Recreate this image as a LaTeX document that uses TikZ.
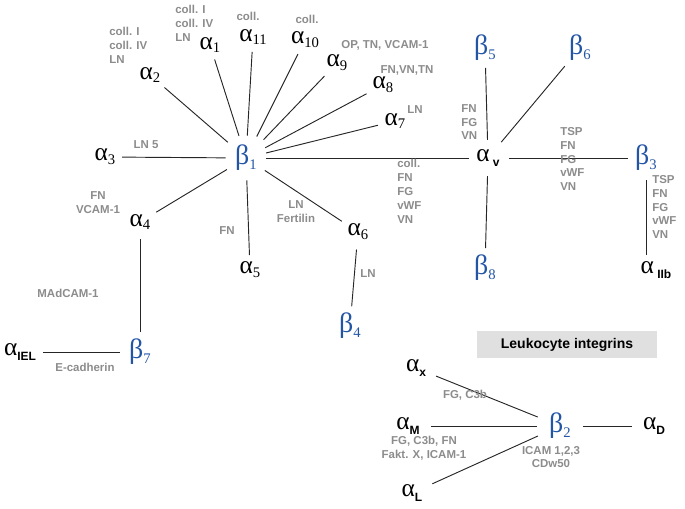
\documentclass[tikz,border=0pt]{standalone}
\usepackage{fontspec}
\setsansfont{Liberation Sans}
\newfontfamily\grf{Liberation Serif}
\newcommand{\gs}[2]{{\grf #1}\raisebox{-0.35ex}{\fontsize{11}{11}\selectfont\grf #2}}
\newcommand{\gl}[2]{{\grf #1}\raisebox{-0.45ex}{\sffamily\bfseries\fontsize{9}{9}\selectfont #2}}
\begin{document}
\begin{tikzpicture}[x=0.75pt,y=-0.75pt,
  a/.style={inner sep=0pt,font=\fontsize{19}{19}\selectfont},
  b/.style={inner sep=0pt,text=bblue,font=\fontsize{21}{21}\selectfont},
  l/.style={inner sep=0pt,text=lgray,font=\sffamily\bfseries\fontsize{8.6}{10.4}\selectfont},
  ln/.style={draw=black!85,line width=0.7pt,shorten <=7pt,shorten >=5pt}]
\definecolor{bblue}{RGB}{35,85,165}
\definecolor{lgray}{RGB}{140,140,140}
\useasboundingbox (0,0) rectangle (685,509);
% nodes
\node[b] (b1) at (246,158) {\gs{β}{1}};
\node[a] (a2) at (150,75) {\gs{α}{2}};
\node[a] (a1) at (210,45) {\gs{α}{1}};
\node[a] (a11) at (253,37) {\gs{α}{11}};
\node[a] (a10) at (305,40) {\gs{α}{10}};
\node[a] (a9) at (337,63) {\gs{α}{9}};
\node[a] (a8) at (383,85) {\gs{α}{8}};
\node[a] (a7) at (395,121) {\gs{α}{7}};
\node[a] (a3) at (105,157) {\gs{α}{3}};
\node[a] (a4) at (140,222) {\gs{α}{4}};
\node[a] (a5) at (250,270) {\gs{α}{5}};
\node[a] (a6) at (358,232) {\gs{α}{6}};
\node[b] (b4) at (350,326) {\gs{β}{4}};
\node[b] (b7) at (140,352) {\gs{β}{7}};
\node[a] (aiel) at (20,352) {\gl{α}{IEL}};
\node[a] (av) at (488,158) {\gl{α}{ v}};
\node[b] (b5) at (485,48) {\gs{β}{5}};
\node[b] (b6) at (580,48) {\gs{β}{6}};
\node[b] (b3) at (646,158) {\gs{β}{3}};
\node[a] (aIIb) at (656,270) {\gl{α}{ IIb}};
\node[b] (b8) at (485,268) {\gs{β}{8}};
\node[b] (b2) at (560,426) {\gs{β}{2}};
\node[a] (ax) at (416,368) {\gl{α}{x}};
\node[a] (aM) at (408,426) {\gl{α}{M}};
\node[a] (aL) at (412,493) {\gl{α}{L}};
\node[a] (aD) at (654,426) {\gl{α}{D}};
\node[fill=black!12,minimum width=180*0.75pt,minimum height=27*0.75pt,inner sep=0pt,font=\sffamily\bfseries\fontsize{10.5}{12}\selectfont] (box) at (567,345) {Leukocyte integrins};
% lines
\foreach \n in {a2,a1,a11,a10,a9,a8,a7,a3,a4,a5,a6,av} \draw[ln] (b1) -- (\n);
\foreach \n in {b5,b6,b3,b8} \draw[ln] (av) -- (\n);
\draw[ln] (b3.south) -- (b3.south |- aIIb.north);
\draw[ln] (a4) -- (b7);
\draw[ln] (a6) -- (b4);
\draw[ln] (b7) -- (aiel);
\foreach \n in {ax,aM,aL,aD} \draw[ln,shorten <=9pt,shorten >=8pt] (b2) -- (\n);
% labels
\node[l,anchor=north west,align=left] (t2) at (109,27) {coll. I\\coll. IV\\LN};
\node[l,anchor=north west,align=left] (t1) at (175,5) {coll. I\\coll. IV\\LN};
\node[l] (t11) at (248,16) {coll.};
\node[l] (t10) at (307,19) {coll.};
\node[l] (t9) at (385,45) {OP, TN, VCAM-1};
\node[l] (t8) at (407,70) {FN,VN,TN};
\node[l] (t7) at (415,110) {LN};
\node[l] (t3) at (146,145) {LN 5};
\node[l,align=center] (t4) at (98,203) {FN\\VCAM-1};
\node[l] (t5) at (227,231) {FN};
\node[l,align=center] (t6) at (296,212) {LN\\Fertilin};
\node[l,anchor=north west,align=left] (tv) at (397,159) {coll.\\FN\\FG\\vWF\\VN};
\node[l,anchor=north west,align=left] (t5v) at (461,104) {FN\\FG\\VN};
\node[l,anchor=north west,align=left] (t3v) at (560,127) {TSP\\FN\\FG\\vWF\\VN};
\node[l,anchor=north west,align=left] (t3b) at (652,175) {TSP\\FN\\FG\\vWF\\VN};
\node[l] (tb4) at (368,274) {LN};
\node[l] (tb7) at (68,293) {MAdCAM-1};
\node[l] (tel) at (85,367) {E-cadherin};
\node[l] (tx) at (465,395) {FG, C3b};
\node[l,align=center] (tM) at (424,448) {FG, C3b, FN\\Fakt. X, ICAM-1};
\node[l,align=center] (tb2) at (551,457) {ICAM 1,2,3\\CDw50};
\end{tikzpicture}
\end{document}
